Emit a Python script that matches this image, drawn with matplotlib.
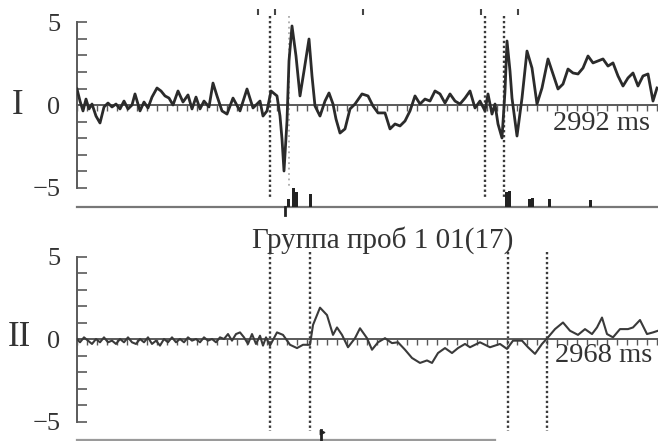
import numpy as np
import matplotlib
matplotlib.use("Agg")
import matplotlib.pyplot as plt

plt.rcParams['font.family'] = ['Liberation Serif', 'DejaVu Serif']

# Panel I trace (time in samples, amplitude in units)
t1 = [0, 3, 6, 9, 12, 15, 19, 23, 27, 31, 35, 39, 43, 47, 51, 55, 58, 63, 67, 71,
      75, 80, 84, 88, 92, 96, 101, 106, 111, 115, 119, 123, 127, 132, 136, 140, 145, 150, 156, 163,
      170, 176, 183, 186, 190, 194, 200, 203, 205, 207, 210, 212, 215, 219, 223, 227, 232, 235, 238, 243,
      248, 252, 256, 259, 263, 268, 273, 278, 285, 291, 296, 301, 308, 313, 318, 323, 328, 333, 338, 343,
      348, 353, 358, 363, 368, 373, 378, 383, 388, 393, 398, 403, 408, 411, 415, 418, 421, 425, 428, 430,
      433, 435, 440, 445, 450, 455, 460, 465, 471, 476, 481, 486, 491, 496, 501, 506, 511, 516, 521, 526,
      531, 536, 541, 546, 551, 556, 561, 566, 571, 576, 580]
v1 = [0.97, 0.24, -0.36, 0.36, -0.24, 0.06, -0.67, -1.09, -0.12, 0.12, -0.12, 0.06, -0.24, 0.24, -0.24, 0.0, 0.67, -0.36, 0.18, -0.18,
      0.48, 1.03, 0.85, 0.55, 0.42, 0.0, 0.85, 0.18, 0.61, -0.24, 0.48, -0.24, 0.24, -0.12, 1.33, 0.55, -0.36, -0.55, 0.42, -0.36,
      0.97, -0.18, 0.24, -0.67, -0.36, 0.85, 0.55, -0.67, -2.06, -4.0, -0.97, 2.67, 4.79, 2.97, 0.55, 2.06, 4.0, 1.76, -0.06, -0.67,
      0.24, 0.73, 0.06, -0.85, -1.7, -1.45, -0.24, 0.06, 0.67, 0.55, -0.06, -0.48, -0.48, -1.45, -1.15, -1.27, -0.97, -0.36, 0.55, 0.06,
      0.36, 0.24, 0.85, 0.67, 0.12, 0.67, 0.24, 0.06, 0.42, 0.85, -0.18, 0.24, -0.36, 0.67, -0.55, 0.06, -1.15, -2.0, 0.85, 3.88,
      2.06, 0.42, -1.88, 0.42, 3.27, 2.24, 0.06, 1.03, 2.79, 1.88, 0.97, 1.27, 2.18, 1.94, 1.88, 2.24, 2.97, 2.55, 2.67, 2.79,
      2.36, 2.55, 1.76, 1.15, 1.64, 1.94, 1.15, 1.76, 1.88, 0.24, 1.03]

# Panel II trace
t2 = [0, 3, 7, 11, 15, 19, 23, 27, 31, 35, 39, 43, 47, 51, 55, 59, 63, 67, 71, 75,
      79, 83, 87, 91, 95, 99, 103, 107, 111, 115, 119, 123, 127, 131, 135, 139, 143, 147, 151, 155,
      159, 163, 167, 171, 175, 179, 183, 186, 189, 193, 200, 206, 213, 220, 226, 233, 236, 243, 250, 256,
      260, 265, 271, 278, 283, 290, 295, 301, 308, 315, 321, 328, 335, 343, 350, 355, 361, 368, 375, 381,
      388, 393, 403, 413, 423, 430, 436, 445, 451, 458, 465, 471, 478, 486, 493, 501, 508, 515, 520, 525,
      530, 536, 543, 551, 556, 563, 570, 576, 581]
v2 = [0.0, -0.2, 0.1, -0.1, -0.3, 0.0, -0.2, 0.1, -0.2, -0.1, -0.3, 0.0, -0.2, 0.1, -0.2, -0.3, 0.0, -0.2, 0.1, -0.3,
      -0.1, -0.4, 0.0, -0.2, 0.1, -0.2, 0.0, -0.2, 0.1, -0.1, 0.0, -0.2, 0.1, -0.1, 0.0, -0.2, 0.1, 0.0, 0.3, -0.1,
      0.3, 0.4, 0.1, -0.3, 0.3, -0.3, 0.2, -0.4, 0.1, -0.4, 0.4, 0.25, -0.35, -0.55, -0.35, -0.35, 0.85, 1.9, 1.45, 0.25,
      0.7, 0.25, -0.5, 0.05, 0.65, 0.05, -0.65, -0.2, 0.05, -0.25, -0.2, -0.65, -1.15, -1.45, -1.3, -1.45, -0.85, -0.55, -0.85, -0.55,
      -0.3, -0.5, -0.2, -0.5, -0.3, -0.6, -0.1, -0.1, -0.5, -0.9, -0.3, 0.1, 0.6, 1.0, 0.5, 0.25, 0.6, 0.3, 0.7, 1.3,
      0.3, 0.1, 0.6, 0.6, 0.7, 1.15, 0.3, 0.4, 0.5]

# Spike histogram under panel I
spike_t = [211, 216, 219, 233, 429, 432, 452, 455, 472, 513]
spike_h = [0.5, 1.15, 0.9, 0.8, 0.9, 1.0, 0.5, 0.55, 0.5, 0.4]

# Event markers (dotted verticals)
events1 = [193, 408, 427]
events1_faint = [212]
events2 = [193, 233, 431, 470]
top_marks1 = [181, 198, 286, 404, 441]
stim1 = 208
stim2 = 244

labels = ['I', 'II']
durations = ['2992 ms', '2968 ms']
title = 'Группа проб 1 01(17)'

W, H = 658, 441
SCALE = 16.5
ink = '#2b2b2b'
axis_c = '#5a5a5a'

fig = plt.figure(figsize=(W / 100, H / 100), dpi=100)


def make_axes(y0, y1, zero_px):
    ax = fig.add_axes([77 / W, 1 - y1 / H, (W - 77) / W, (y1 - y0) / H])
    ax.set_xlim(0, W - 77)
    ax.set_ylim((zero_px - y1) / SCALE, (zero_px - y0) / SCALE)
    ax.patch.set_alpha(0)
    for s in ['top', 'right']:
        ax.spines[s].set_visible(False)
    ax.spines['left'].set_position(('data', 0))
    ax.spines['left'].set_bounds(-5, 5)
    ax.spines['bottom'].set_position(('data', 0))
    ax.spines['bottom'].set_bounds(0, W - 77)
    for s in ['left', 'bottom']:
        ax.spines[s].set_color(axis_c)
        ax.spines[s].set_linewidth(1.4)
    ax.set_yticks([-5, 0, 5])
    ax.set_yticklabels(['\u22125', '0', '5'])
    ax.set_yticks(range(-5, 6), minor=True)
    ax.tick_params(axis='y', which='both', direction='in', length=7, width=1.2,
                   color=axis_c, labelsize=19, labelcolor='#333333', pad=12)
    ax.set_xticks(np.arange(0, W - 77, 10))
    ax.set_xticklabels([])
    ax.tick_params(axis='x', direction='out', length=4, width=1.0, color=axis_c)
    return ax


ax1 = make_axes(0, 220, 105)
ax2 = make_axes(222, 441, 339)

# panel I
base1 = (105 - 207) / SCALE
ax1.plot(t1, v1, color=ink, lw=2.0, zorder=3)
ax1.plot([0, W - 77], [base1, base1], color='#777777', lw=1.6, clip_on=False)
ax1.bar(spike_t, spike_h, width=3, bottom=base1, color='#222222', zorder=3)
for e in events1:
    ax1.plot([e, e], [5.4, -5.6], color='#3a3a3a', lw=1.7, ls=(0, (1, 1.1)))
for e in events1_faint:
    ax1.plot([e, e], [5.4, -5.0], color='#aaaaaa', lw=1.3, ls=(0, (1, 2)))
ax1.plot([stim1, stim1], [base1, base1 - 0.5], color='#222222', lw=2, clip_on=False)
ax1.scatter(top_marks1, [5.65] * len(top_marks1), marker='|', s=18, color='#444444', clip_on=False)

# panel II
base2 = (339 - 440) / SCALE
ax2.plot(t2, v2, color='#3a3a3a', lw=1.5, zorder=3)
ax2.plot([0, 418], [base2, base2], color='#9a9a9a', lw=1.6, clip_on=False)
for e in events2:
    ax2.plot([e, e], [5.3, -5.6], color='#3a3a3a', lw=1.7, ls=(0, (1, 1.1)))
ax2.plot([stim2, stim2], [base2, base2 + 0.6], color='#222222', lw=2, clip_on=False)
ax2.scatter([stim2 + 1], [base2 + 0.5], marker='>', s=10, color='#222222', clip_on=False)

# texts
fig.text(18 / W, 1 - 106 / H, labels[0], fontsize=25, color='#333333', ha='center', va='center')
fig.text(19 / W, 1 - 338 / H, labels[1], fontsize=25, color='#333333', ha='center', va='center')
fig.text(553 / W, 1 - 123 / H, durations[0], fontsize=20.5, color='#333333', ha='left', va='center')
fig.text(555 / W, 1 - 355 / H, durations[1], fontsize=20.5, color='#333333', ha='left', va='center')
fig.text(383 / W, 1 - 240 / H, title, fontsize=21, color='#333333', ha='center', va='center')

fig.savefig('out.png', dpi=100)
